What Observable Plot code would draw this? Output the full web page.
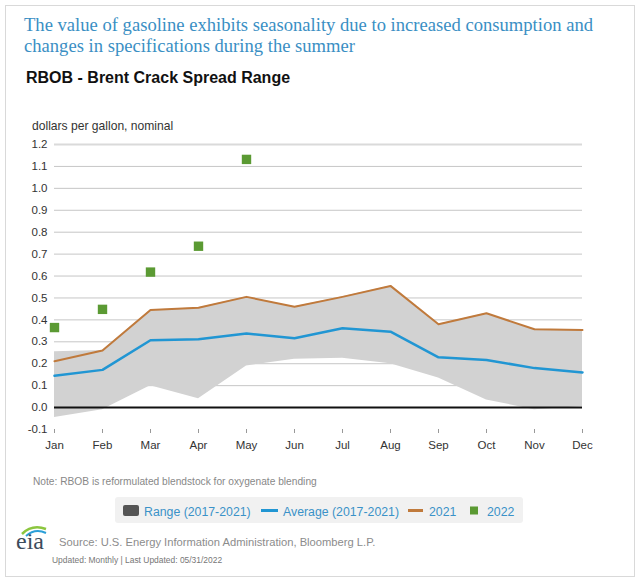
<!DOCTYPE html>
<html>
<head>
<meta charset="utf-8">
<script src="https://cdn.jsdelivr.net/npm/d3@7"></script>
<script src="https://cdn.jsdelivr.net/npm/@observablehq/plot@0.6"></script>
<style>
  html, body { margin: 0; padding: 0; background: #fff; }
  #page { position: relative; width: 640px; height: 581px; overflow: hidden; font-family: "Liberation Sans", Arial, sans-serif; }
  #overlay { position: absolute; left: 0; top: 0; }
  #chart { position: absolute; left: 0; top: 100px; }
</style>
</head>
<body>
<div id="page">
  <svg id="overlay" width="640" height="581" xmlns="http://www.w3.org/2000/svg">
    <rect x="5.5" y="5.5" width="629" height="571" fill="none" stroke="#d9d9d9" stroke-width="1"/>
    <text x="24" y="31" font-family="Liberation Serif, Times New Roman, serif" font-size="18.6" fill="#3a8fc4">The value of gasoline exhibits seasonality due to increased consumption and</text>
    <text x="24" y="52" font-family="Liberation Serif, Times New Roman, serif" font-size="18.6" fill="#3a8fc4">changes in specifications during the summer</text>
    <text x="26" y="83" font-family="Liberation Sans, Arial, sans-serif" font-size="16" font-weight="bold" fill="#111">RBOB - Brent Crack Spread Range</text>
    <text x="32" y="130" font-family="Liberation Sans, Arial, sans-serif" font-size="12.1" fill="#333">dollars per gallon, nominal</text>
    <text x="33" y="485" font-family="Liberation Sans, Arial, sans-serif" font-size="10.2" fill="#888">Note: RBOB is reformulated blendstock for oxygenate blending</text>
    <g id="legend" font-family="Liberation Sans, Arial, sans-serif" font-size="12.3" fill="#3a92c8"></g>
    <g id="logo">
      <path d="M22,534 Q32,524 46,529" fill="none" stroke="#8cc63f" stroke-width="2.5"/>
      <path d="M26,536 Q35,528 46,533" fill="none" stroke="#2a9fd8" stroke-width="2"/>
      <text x="16" y="549" font-family="Liberation Serif, Times New Roman, serif" font-size="24" fill="#3d4c5c">eia</text>
    </g>
    <text x="59" y="546" font-family="Liberation Sans, Arial, sans-serif" font-size="11.2" fill="#8c8c8c">Source: U.S. Energy Information Administration, Bloomberg L.P.</text>
    <text x="52" y="563" font-family="Liberation Sans, Arial, sans-serif" font-size="8.45" fill="#777">Updated: Monthly | Last Updated: 05/31/2022</text>
  </svg>
  <div id="chart"></div>
</div>
<script>
// ---- data ----
const months = ["Jan","Feb","Mar","Apr","May","Jun","Jul","Aug","Sep","Oct","Nov","Dec"];
const rangeLow  = [-0.045, -0.01, 0.10, 0.04, 0.19, 0.22, 0.225, 0.20, 0.135, 0.035, -0.01, 0.005];
const rangeHigh = [0.255, 0.26, 0.445, 0.455, 0.505, 0.46, 0.505, 0.555, 0.38, 0.43, 0.357, 0.354];
const average   = [0.145, 0.172, 0.307, 0.312, 0.338, 0.316, 0.362, 0.346, 0.229, 0.217, 0.18, 0.16];
const y2021     = [0.211, 0.26, 0.445, 0.455, 0.505, 0.46, 0.505, 0.555, 0.38, 0.43, 0.357, 0.354];
const months2022 = ["Jan","Feb","Mar","Apr","May"];
const y2022     = [0.365, 0.448, 0.618, 0.736, 1.132];
const yTicks = [-0.1, 0.0, 0.1, 0.2, 0.3, 0.4, 0.5, 0.6, 0.7, 0.8, 0.9, 1.0, 1.1, 1.2];
const gridVals = [0.1, 0.2, 0.3, 0.4, 0.5, 0.6, 0.7, 0.8, 0.9, 1.0, 1.1];
const legendItems = ["Range (2017-2021)", "Average (2017-2021)", "2021", "2022"];

const rows = months.map((m, i) => ({month: m, low: rangeLow[i], high: rangeHigh[i], avg: average[i], v2021: y2021[i]}));
const rows2022 = months2022.map((m, i) => ({month: m, v: y2022[i]}));

const chart = Plot.plot({
  width: 640,
  height: 359,
  marginLeft: 54,
  marginRight: 58,
  marginTop: 44,
  marginBottom: 30,
  style: {fontFamily: "Liberation Sans, Arial, sans-serif", fontSize: "11.5px", color: "#333", background: "transparent", overflow: "visible"},
  x: {type: "point", domain: months, padding: 0, label: null, tickSize: 4, tickPadding: 7},
  y: {domain: [-0.1, 1.2], ticks: yTicks, tickSize: 0, tickPadding: 7, tickFormat: d => d.toFixed(1), label: null},
  marks: [
    Plot.ruleY(gridVals, {stroke: "#c6c6c6", strokeWidth: 1}),
    Plot.ruleY([1.2], {stroke: "#dadada", strokeWidth: 2}),
    Plot.areaY(rows, {x: "month", y1: "low", y2: "high", fill: "#d2d2d2"}),
    Plot.ruleY([0], {stroke: "#111", strokeWidth: 2}),
    Plot.lineY(rows, {x: "month", y: "v2021", stroke: "#c07a3c", strokeWidth: 2}),
    Plot.lineY(rows, {x: "month", y: "avg", stroke: "#2196d3", strokeWidth: 2.5}),
    Plot.dot(rows2022, {x: "month", y: "v", symbol: "square", fill: "#5b9a33", r: 5.3})
  ]
});
document.getElementById("chart").appendChild(chart);
// grey x ticks
chart.querySelectorAll('g[aria-label^="x-axis"] line, g[aria-label="x-axis tick"] path').forEach(e => e.setAttribute("stroke", "#999"));

// ---- legend ----
const ns = "http://www.w3.org/2000/svg";
const lg = document.getElementById("legend");
function el(tag, attrs, text) {
  const e = document.createElementNS(ns, tag);
  for (const k in attrs) e.setAttribute(k, attrs[k]);
  if (text) e.textContent = text;
  lg.appendChild(e);
  return e;
}
el("rect", {x: 115, y: 497, width: 408, height: 26, rx: 3, fill: "#f1f1f1"});
el("rect", {x: 123, y: 505, width: 16, height: 11, rx: 2, fill: "#555"});
el("text", {x: 144, y: 516}, legendItems[0]);
el("line", {x1: 261, x2: 278, y1: 510.5, y2: 510.5, stroke: "#2196d3", "stroke-width": 3});
el("text", {x: 283, y: 516}, legendItems[1]);
el("line", {x1: 408, x2: 423, y1: 510.5, y2: 510.5, stroke: "#c07a3c", "stroke-width": 3});
el("text", {x: 429, y: 516}, legendItems[2]);
el("rect", {x: 470, y: 506.5, width: 8, height: 8, fill: "#5b9a33"});
el("text", {x: 487, y: 516}, legendItems[3]);
</script>
</body>
</html>
